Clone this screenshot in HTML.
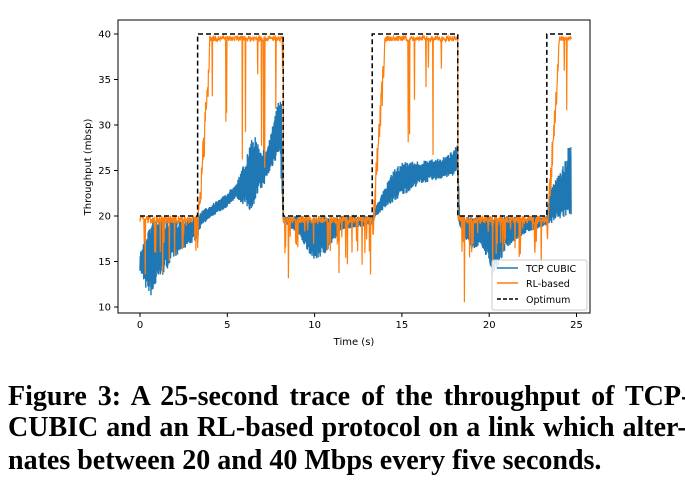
<!DOCTYPE html><html><head><style>
body{margin:0;background:#fff;width:685px;height:499px;overflow:hidden;position:relative}
.cap{position:absolute;left:8px;font:bold 28px "Liberation Serif",serif;white-space:nowrap;color:#000;line-height:32px}
</style></head><body>
<svg id="s" width="685" height="370" style="position:absolute;left:0;top:0" font-family="DejaVu Sans, sans-serif" font-size="10">
<g id="data"></g>
<rect x="118" y="20" width="472" height="293" fill="none" stroke="#000" stroke-width="1"/>
<g id="ticks" stroke="#000"></g>
<text x="354" y="345" text-anchor="middle" font-size="10">Time (s)</text>
<text transform="translate(91,167) rotate(-90)" text-anchor="middle" font-size="10">Throughput (mbsp)</text>
<rect x="492" y="260" width="95" height="50" fill="#fff" fill-opacity="0.85" stroke="#ccc" rx="2"/>
<line x1="497" y1="268" x2="518" y2="268" stroke="#1f77b4" stroke-width="1.5"/><text x="526" y="272" font-size="9.5">TCP CUBIC</text>
<line x1="497" y1="283" x2="518" y2="283" stroke="#ff7f0e" stroke-width="1.5"/><text x="526" y="287" font-size="9.5">RL-based</text>
<line x1="497" y1="299" x2="518" y2="299" stroke="#000" stroke-width="1.5" stroke-dasharray="4,2"/><text x="526" y="303" font-size="9.5">Optimum</text>
</svg>
<div class="cap" style="top:381px;word-spacing:4px">Figure 3: A 25-second trace of the throughput of TCP-</div>
<div class="cap" style="top:412px;word-spacing:1px">CUBIC and an RL-based protocol on a link which alter-</div>
<div class="cap" style="top:445px">nates between 20 and 40 Mbps every five seconds.</div>
<script>
const X=t=>140+t*17.46, Y=v=>307-(v-10)*9.1;
let seed=7;const r=()=>{seed=(seed*16807)%2147483647;return seed/2147483647};
const interp=(pts,t)=>{for(let i=1;i<pts.length;i++){if(t<=pts[i][0]){const a=pts[i-1],b=pts[i];const f=(t-a[0])/(b[0]-a[0]);return a[1]+f*(b[1]-a[1]);}}return pts[pts.length-1][1]};
const lo=[[0,14],[0.3,12],[0.7,11],[1,12.5],[2,15.5],[3.3,17.5],[3.5,19],[5,21],[5.5,22],[6.3,20.5],[7,23],[8,27],[8.2,19.5],[9,18],[10,15],[10.7,16],[11.5,18.5],[13.3,19],[13.5,20],[14.5,21.5],[16,23.5],[18.2,24.5],[18.3,19],[19,16],[19.5,17],[20.3,13.5],[21,16.5],[22,18],[23.3,19],[23.4,19],[24.7,20]];
const hi=[[0,16],[0.5,19],[1,20],[2,19.5],[3.3,20],[3.5,20.5],[5,22.5],[5.6,24],[6,26],[6.5,29],[7.2,27],[8.1,34],[8.2,20],[9,20],[13.3,20],[13.5,21],[14.5,25],[15,26],[16,26],[17.5,26.5],[18.2,28],[18.3,20],[23.3,20],[23.5,23],[24.3,26],[24.7,29]];
let b="";for(let t=0;t<=24.7;t+=0.015){const l=interp(lo,t),h=interp(hi,t);const v=(Math.floor(t/0.015)%2)?h-r()*(h-l)*0.25:l+r()*(h-l)*0.25;b+=(b?"L":"M")+X(t).toFixed(1)+","+Y(v).toFixed(1);}
const opt=t=>(t<3.3||(t>=8.2&&t<13.3)||(t>=18.2&&t<23.3))?20:40;
let o="";for(let t=0;t<=24.7;t+=0.02){let v;const base=opt(t);let ramp=1;
for(const s of [3.3,13.3,23.3]){if(t>=s&&t<s+0.7)ramp=(t-s)/0.7;}
if(base==40){v=20+ramp*19.5+ (r()-0.5)*0.6;if(ramp>=1&&r()<0.06)v-=3+r()*12;if(ramp<1)v-=r()*4;}
else{v=19.6+(r()-0.5)*0.8;if(r()<0.1)v-=1+r()*3;if(r()<0.015)v-=4+r()*3;}
o+=(o?"L":"M")+X(t).toFixed(1)+","+Y(v).toFixed(1);}
let d="M"+X(0)+","+Y(20);const ev=[[3.3,40],[8.2,20],[13.3,40],[18.2,20],[23.3,40]];for(const [t,v] of ev){d+="H"+X(t)+"V"+Y(v);}d+="H"+X(24.7);
document.getElementById("data").innerHTML=`<path d="${b}" fill="none" stroke="#1f77b4" stroke-width="1.4"/><path d="${o}" fill="none" stroke="#ff7f0e" stroke-width="1.2"/><path d="${d}" fill="none" stroke="#000" stroke-width="1.5" stroke-dasharray="5,3"/>`;
let tk="";for(let i=0;i<=5;i++){const x=X(i*5);tk+=`<line x1="${x}" y1="313" x2="${x}" y2="317"/><text x="${x}" y="328" text-anchor="middle" stroke="none">${i*5}</text>`;}
for(let v=10;v<=40;v+=5){const y=Y(v);tk+=`<line x1="114" y1="${y}" x2="118" y2="${y}"/><text x="111" y="${y+3.5}" text-anchor="end" stroke="none">${v}</text>`;}
document.getElementById("ticks").innerHTML=tk;
</script>
</body></html>
